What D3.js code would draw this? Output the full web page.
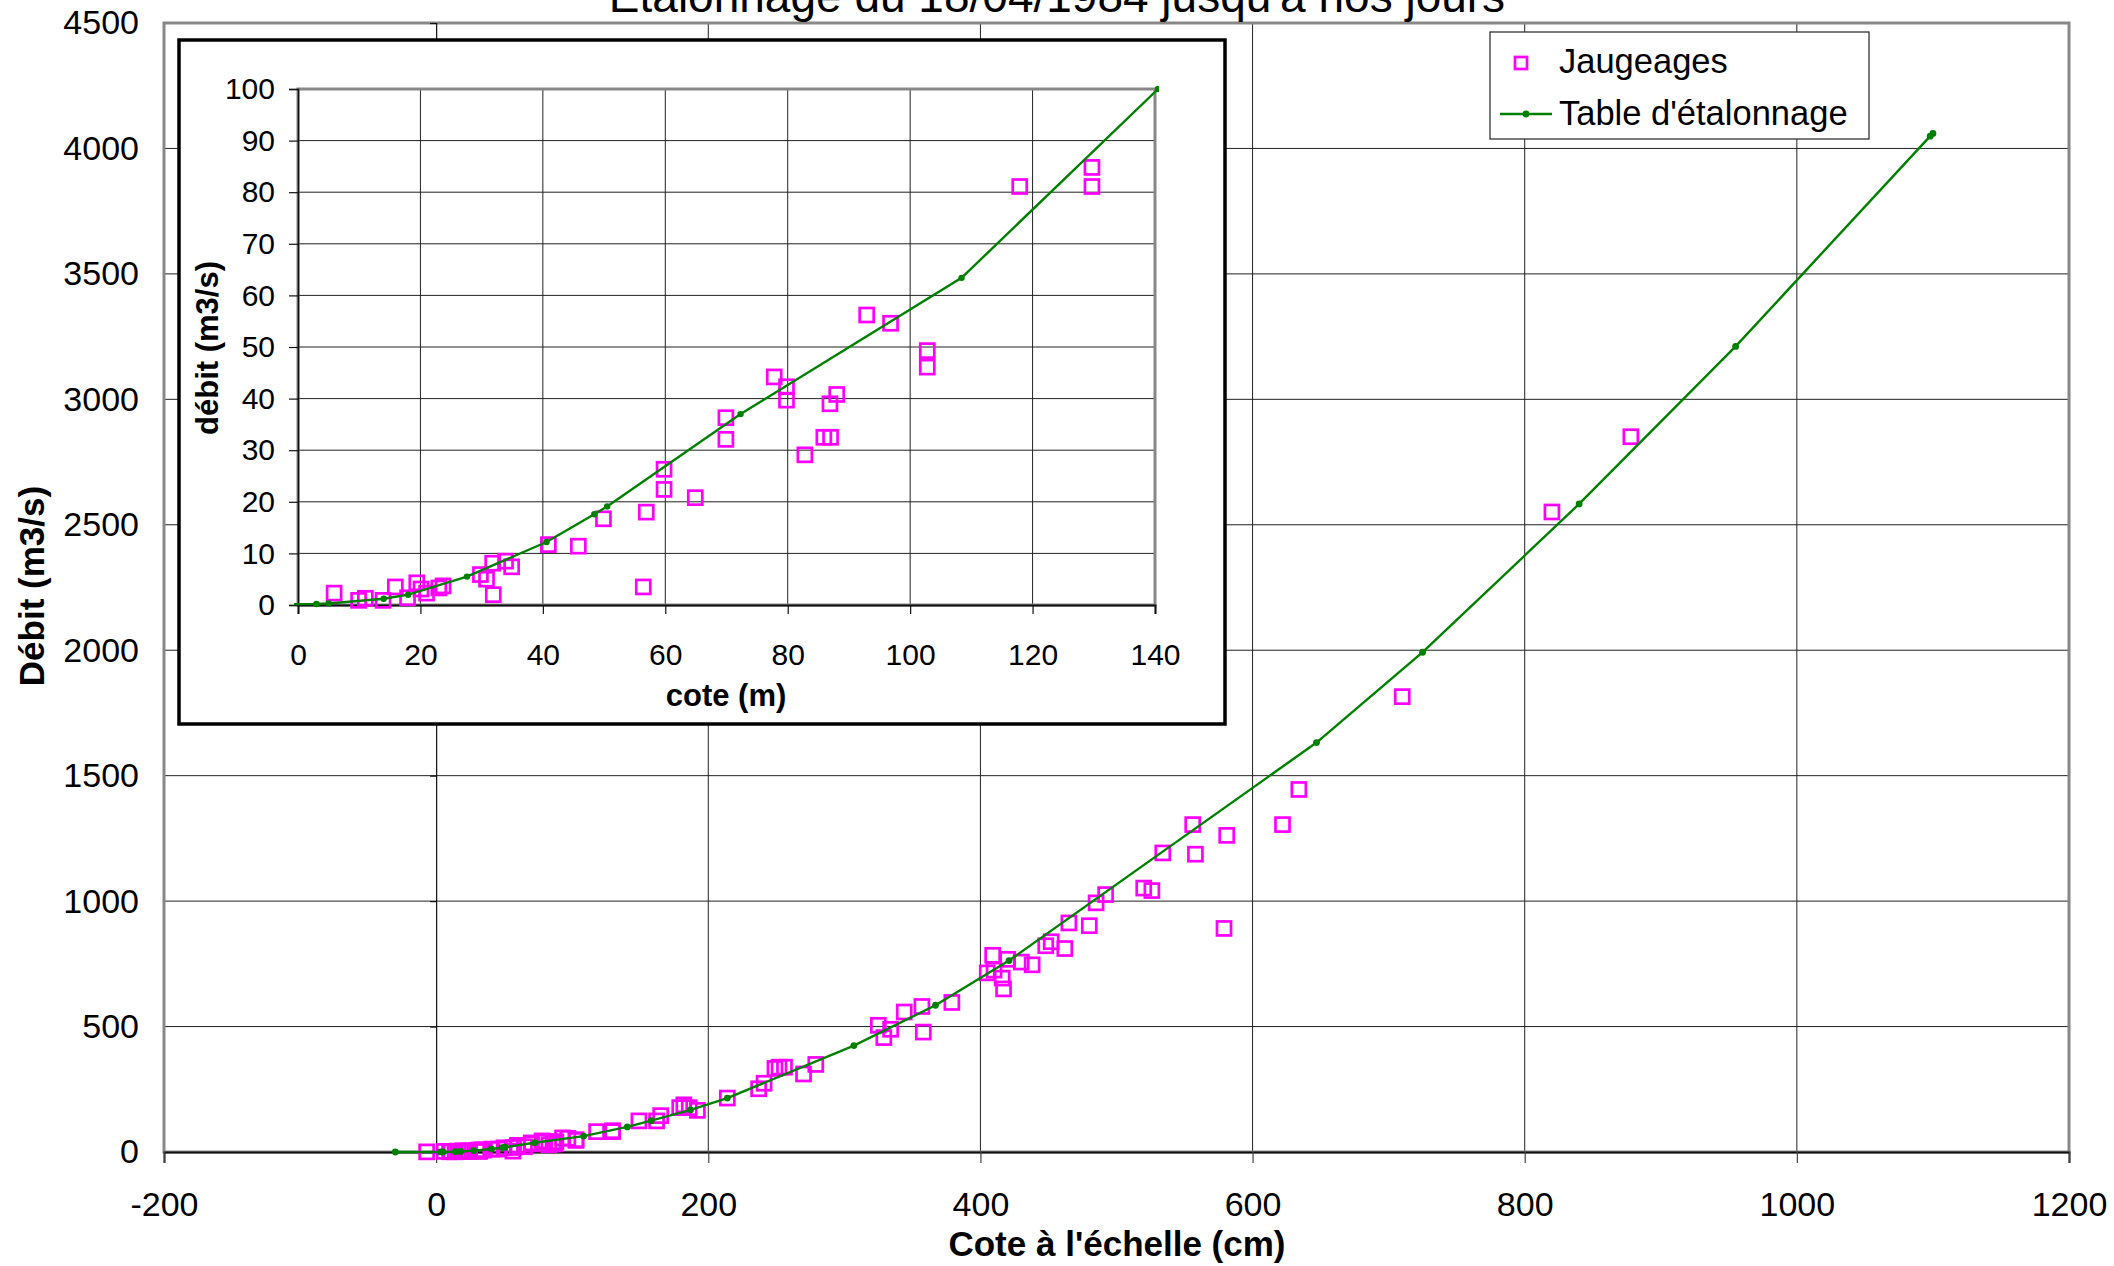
<!DOCTYPE html>
<html>
<head>
<meta charset="utf-8">
<script src="https://cdnjs.cloudflare.com/ajax/libs/d3/7.8.5/d3.min.js"></script>
<style>
  html, body { margin: 0; padding: 0; background: #fff; }
  svg { display: block; font-family: "Liberation Sans", Arial, sans-serif; }
</style>
</head>
<body>
<svg id="chart" width="2114" height="1266"></svg>
<script>
// Jaugeages : cote à l'échelle (cm) et débit mesuré (m3/s)
const gaugingCote = [
  -7, 5.9, 9.9, 11.0, 13.9, 15.9, 17.9, 19.4, 20.1, 21.0, 23.0, 23.7, 29.8, 30.8, 31.8, 31.9,
  33.9, 34.9, 40.9, 45.8, 49.9, 56.4, 56.9, 59.8, 59.8, 64.9, 69.9, 69.9, 77.8, 79.8, 79.8,
  82.8, 85.9, 87.0, 86.9, 88.0, 92.9, 96.8, 102.8, 102.8, 117.9, 129.7, 129.7,
  149, 162, 165, 179, 182, 186, 192, 214, 237, 241, 249, 252, 256, 270, 279,
  325, 329, 334, 344, 357, 358, 379, 405, 409, 410, 416, 417, 420, 430, 438,
  448, 452, 462, 465, 480, 485, 492, 520, 526, 534, 556, 558, 579, 581, 622,
  634, 710, 820, 878
];
const gaugingDebit = [
  0.5, 2.3, 0.9, 1.3, 0.9, 3.5, 1.4, 4.3, 3.1, 2.3, 3.3, 3.7, 5.9, 5.0, 8.1, 2.0,
  8.5, 7.4, 11.7, 11.4, 16.7, 3.5, 18.0, 26.3, 22.4, 20.8, 36.3, 32.1, 44.2, 42.3, 39.7,
  29.1, 32.5, 32.5, 39.0, 40.8, 56.2, 54.6, 49.3, 46.1, 81.1, 84.8, 81.1,
  124, 124, 145, 177, 188, 177, 166, 215, 252, 274, 333, 338, 338, 311, 349,
  505, 456, 489, 558, 580, 478, 596, 714, 784, 725, 693, 650, 768, 757, 746,
  822, 838, 811, 913, 902, 993, 1026, 1052, 1042, 1192, 1305, 1187, 891, 1262, 1305,
  1445, 1815, 2551, 2851
];

// Table d'étalonnage : cote (cm) et débit (m3/s)
const tableCote = [-30, 3, 5, 14, 18, 27.6, 40.6, 48.4, 50.5, 72.3, 108.4, 140.5, 158, 187, 214,
  307, 367, 421, 647, 725, 840, 955, 1098, 1100];
const tableDebit = [0, 0.2, 0.3, 1.2, 2.0, 5.5, 12.2, 17.6, 19.1, 37.0, 63.4, 100, 125, 168, 215,
  424, 585, 763, 1632, 1992, 2583, 3211, 4049, 4060];

// Graduations
const mainXTicks = [-200, 0, 200, 400, 600, 800, 1000, 1200];
const mainYTicks = [0, 500, 1000, 1500, 2000, 2500, 3000, 3500, 4000, 4500];
const insetXTicks = [0, 20, 40, 60, 80, 100, 120, 140];
const insetYTicks = [0, 10, 20, 30, 40, 50, 60, 70, 80, 90, 100];

const titleText = "Étalonnage du 18/04/1984 jusqu'à nos jours";
const legendLabels = ["Jaugeages", "Table d'étalonnage"];

const gaugings = gaugingCote.map((c, i) => ({ c, q: gaugingDebit[i] }));
const table = tableCote.map((c, i) => ({ c, q: tableDebit[i] }));

const MAGENTA = "#ff00ff";
const GREEN = "#008000";
const FONT = "Liberation Sans, Arial, sans-serif";
const plain = d => String(d);   // trait d'union ASCII pour les négatifs

const svg = d3.select("#chart");

// ---------- graphique principal ----------
const x = d3.scaleLinear().domain([-200, 1200]).range([164, 2069]);
const y = d3.scaleLinear().domain([0, 4500]).range([1152, 23]);

const main = svg.append("g");

// quadrillage
main.append("g").selectAll("line")
  .data(mainYTicks.filter(v => v > 0 && v < 4500))
  .join("line")
  .attr("x1", x(-200)).attr("x2", x(1200))
  .attr("y1", d => y(d)).attr("y2", d => y(d))
  .attr("stroke", "#222").attr("stroke-width", 1);
main.append("g").selectAll("line")
  .data(mainXTicks.filter(v => v > -200 && v < 1200 && v !== 0))
  .join("line")
  .attr("x1", d => x(d)).attr("x2", d => x(d))
  .attr("y1", y(0)).attr("y2", y(4500))
  .attr("stroke", "#222").attr("stroke-width", 1);

// cadre de la zone de tracé
main.append("rect")
  .attr("x", x(-200)).attr("y", y(4500))
  .attr("width", x(1200) - x(-200)).attr("height", y(0) - y(4500))
  .attr("fill", "none").attr("stroke", "#888").attr("stroke-width", 3);

// axe des abscisses
const xAxis = d3.axisBottom(x).tickValues(mainXTicks).tickSize(11).tickFormat(plain);
const gx = main.append("g").attr("transform", `translate(0,${y(0)})`).call(xAxis);
gx.select(".domain").attr("stroke", "#111").attr("stroke-width", 2);
gx.selectAll(".tick line").attr("stroke", "#444").attr("stroke-width", 1.2);
gx.selectAll(".tick text").attr("font-size", 34).attr("fill", "#000")
  .attr("font-family", FONT).attr("dy", null).attr("y", 64);

// axe des ordonnées (croise en x = 0, étiquettes à gauche)
const yAxisLine = d3.axisLeft(y).tickValues(mainYTicks).tickSize(6).tickFormat("");
const gyLine = main.append("g").attr("transform", `translate(${x(0)},0)`).call(yAxisLine);
gyLine.select(".domain").attr("stroke", "#111").attr("stroke-width", 1.2);
gyLine.selectAll(".tick line").attr("stroke", "#111").attr("stroke-width", 1.2);

const yAxisLabels = d3.axisLeft(y).tickValues(mainYTicks).tickSize(0).tickPadding(25).tickFormat(plain);
const gy = main.append("g").attr("transform", `translate(${x(-200)},0)`).call(yAxisLabels);
gy.select(".domain").remove();
gy.selectAll(".tick text").attr("font-size", 34).attr("fill", "#000").attr("font-family", FONT);

// titres
svg.append("text").attr("x", 1057).attr("y", 12).attr("text-anchor", "middle")
  .attr("font-size", 46).text(titleText);
svg.append("text").attr("x", 1117).attr("y", 1256).attr("text-anchor", "middle")
  .attr("font-size", 35).attr("font-weight", "bold").text("Cote à l'échelle (cm)");
svg.append("text").attr("transform", "translate(44,586) rotate(-90)").attr("text-anchor", "middle")
  .attr("font-size", 35).attr("font-weight", "bold").text("Débit (m3/s)");

// séries
function drawSeries(g, sx, sy, sq, dotR, lw) {
  g.append("g").selectAll("rect")
    .data(gaugings.filter(d => d.c >= sx.domain()[0] && d.c <= sx.domain()[1] && d.q <= sy.domain()[1]))
    .join("rect")
    .attr("x", d => sx(d.c) - sq / 2).attr("y", d => sy(d.q) - sq / 2)
    .attr("width", sq).attr("height", sq)
    .attr("fill", "none").attr("stroke", MAGENTA).attr("stroke-width", 2.7);
  const line = d3.line().x(d => sx(d.c)).y(d => sy(d.q));
  g.append("path").datum(table).attr("d", line)
    .attr("fill", "none").attr("stroke", GREEN).attr("stroke-width", lw);
  g.append("g").selectAll("circle")
    .data(table.filter(d => d.c >= sx.domain()[0] && d.c <= sx.domain()[1] + 1 && d.q <= sy.domain()[1] + 1))
    .join("circle")
    .attr("cx", d => sx(d.c)).attr("cy", d => sy(d.q)).attr("r", dotR)
    .attr("fill", GREEN);
}
drawSeries(main.append("g"), x, y, 14, 3.4, 2.4);

// ---------- encart (basses eaux) ----------
const ix = d3.scaleLinear().domain([0, 140]).range([298, 1155]);
const iy = d3.scaleLinear().domain([0, 100]).range([605, 89]);

const inset = svg.append("g");
inset.append("rect").attr("x", 179).attr("y", 40).attr("width", 1046).attr("height", 684)
  .attr("fill", "#fff").attr("stroke", "#000").attr("stroke-width", 3.5);

inset.append("g").selectAll("line")
  .data(insetYTicks.filter(v => v > 0 && v < 100))
  .join("line")
  .attr("x1", ix(0)).attr("x2", ix(140))
  .attr("y1", d => iy(d)).attr("y2", d => iy(d))
  .attr("stroke", "#222").attr("stroke-width", 1);
inset.append("g").selectAll("line")
  .data(insetXTicks.filter(v => v > 0 && v < 140))
  .join("line")
  .attr("x1", d => ix(d)).attr("x2", d => ix(d))
  .attr("y1", iy(0)).attr("y2", iy(100))
  .attr("stroke", "#222").attr("stroke-width", 1);
inset.append("rect")
  .attr("x", ix(0)).attr("y", iy(100))
  .attr("width", ix(140) - ix(0)).attr("height", iy(0) - iy(100))
  .attr("fill", "none").attr("stroke", "#888").attr("stroke-width", 3);

const ixAxis = d3.axisBottom(ix).tickValues(insetXTicks).tickSize(9).tickFormat(plain);
const gix = inset.append("g").attr("transform", `translate(0,${iy(0)})`).call(ixAxis);
gix.select(".domain").attr("stroke", "#111").attr("stroke-width", 2);
gix.selectAll(".tick line").attr("stroke", "#111").attr("stroke-width", 1.2);
gix.selectAll(".tick text").attr("font-size", 30).attr("fill", "#000")
  .attr("font-family", FONT).attr("dy", null).attr("y", 60);

const iyAxis = d3.axisLeft(iy).tickValues(insetYTicks).tickSize(9).tickPadding(14).tickFormat(plain);
const giy = inset.append("g").attr("transform", `translate(${ix(0)},0)`).call(iyAxis);
giy.select(".domain").attr("stroke", "#111").attr("stroke-width", 1.6);
giy.selectAll(".tick line").attr("stroke", "#111").attr("stroke-width", 1.2);
giy.selectAll(".tick text").attr("font-size", 30).attr("fill", "#000").attr("font-family", FONT);

inset.append("text").attr("x", 726).attr("y", 706).attr("text-anchor", "middle")
  .attr("font-size", 31).attr("font-weight", "bold").text("cote (m)");
inset.append("text").attr("transform", "translate(218,348) rotate(-90)").attr("text-anchor", "middle")
  .attr("font-size", 31).attr("font-weight", "bold").text("débit (m3/s)");

inset.append("clipPath").attr("id", "insetClip").append("rect")
  .attr("x", ix(0) - 4).attr("y", iy(100) - 4)
  .attr("width", ix(140) - ix(0) + 8).attr("height", iy(0) - iy(100) + 8);
drawSeries(inset.append("g").attr("clip-path", "url(#insetClip)"), ix, iy, 14, 3.2, 2.4);

// ---------- légende ----------
const legend = svg.append("g");
legend.append("rect").attr("x", 1490).attr("y", 32).attr("width", 379).attr("height", 107)
  .attr("fill", "#fff").attr("stroke", "#333").attr("stroke-width", 1.3);
legend.append("rect").attr("x", 1515).attr("y", 57).attr("width", 12).attr("height", 12)
  .attr("fill", "none").attr("stroke", MAGENTA).attr("stroke-width", 2.7);
legend.append("line").attr("x1", 1500).attr("x2", 1552).attr("y1", 114).attr("y2", 114)
  .attr("stroke", GREEN).attr("stroke-width", 2.4);
legend.append("circle").attr("cx", 1526).attr("cy", 114).attr("r", 3.4).attr("fill", GREEN);
legend.selectAll("text.lbl").data(legendLabels).join("text")
  .attr("class", "lbl")
  .attr("x", 1559).attr("y", (d, i) => 73 + i * 52)
  .attr("font-size", 34.5).text(d => d);
</script>
</body>
</html>
